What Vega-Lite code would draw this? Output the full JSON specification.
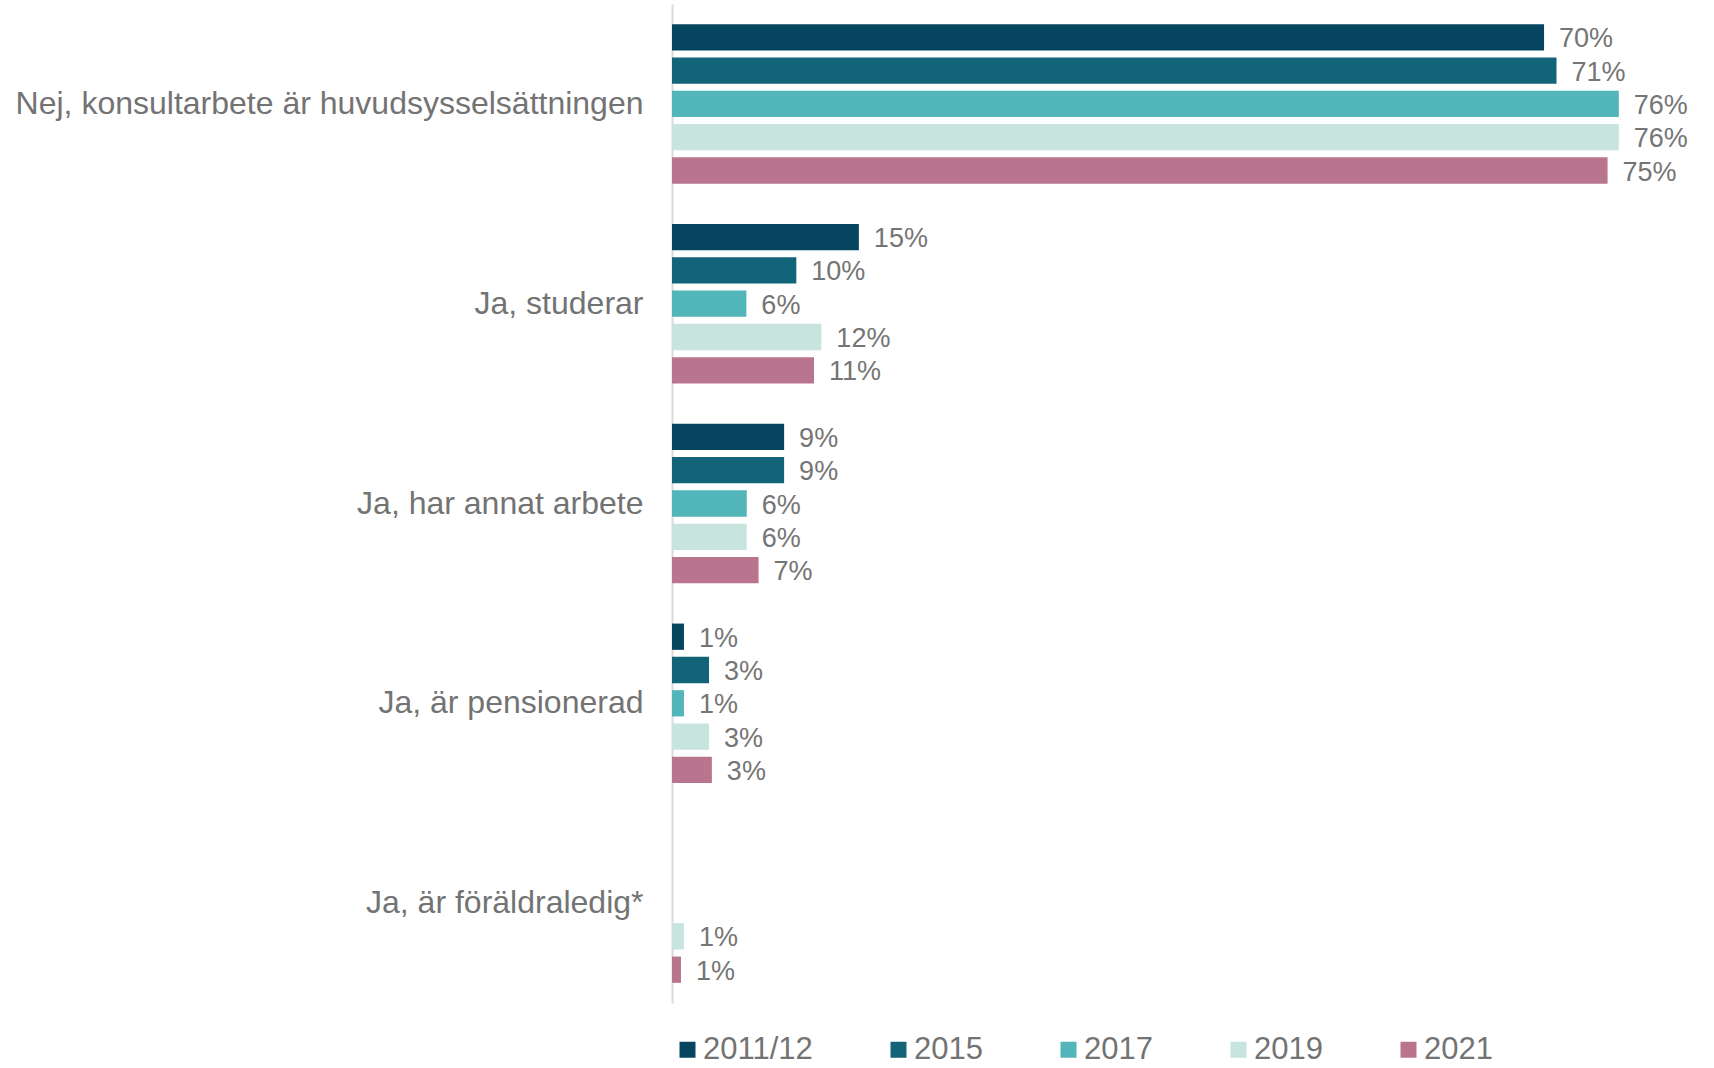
{
  "$schema": "https://vega.github.io/schema/vega-lite/v6.json",
  "autosize": {"type": "none"},
  "padding": {"left": 672, "top": 4, "right": 8, "bottom": 64},
  "width": 1034,
  "height": 999,
  "background": "white",
  "config": {
    "view": {"stroke": null},
    "font": "Liberation Sans",
    "text": {"font": "Liberation Sans"}
  },
  "data": {
    "values": [
      {"kategori": "Nej, konsultarbete är huvudsysselsättningen", "år": "2011/12", "andel": 0.700},
      {"kategori": "Nej, konsultarbete är huvudsysselsättningen", "år": "2015", "andel": 0.710},
      {"kategori": "Nej, konsultarbete är huvudsysselsättningen", "år": "2017", "andel": 0.760},
      {"kategori": "Nej, konsultarbete är huvudsysselsättningen", "år": "2019", "andel": 0.760},
      {"kategori": "Nej, konsultarbete är huvudsysselsättningen", "år": "2021", "andel": 0.751},
      {"kategori": "Ja, studerar", "år": "2011/12", "andel": 0.150},
      {"kategori": "Ja, studerar", "år": "2015", "andel": 0.0998},
      {"kategori": "Ja, studerar", "år": "2017", "andel": 0.0597},
      {"kategori": "Ja, studerar", "år": "2019", "andel": 0.1199},
      {"kategori": "Ja, studerar", "år": "2021", "andel": 0.114},
      {"kategori": "Ja, har annat arbete", "år": "2011/12", "andel": 0.090},
      {"kategori": "Ja, har annat arbete", "år": "2015", "andel": 0.090},
      {"kategori": "Ja, har annat arbete", "år": "2017", "andel": 0.060},
      {"kategori": "Ja, har annat arbete", "år": "2019", "andel": 0.060},
      {"kategori": "Ja, har annat arbete", "år": "2021", "andel": 0.0695},
      {"kategori": "Ja, är pensionerad", "år": "2011/12", "andel": 0.0096},
      {"kategori": "Ja, är pensionerad", "år": "2015", "andel": 0.0297},
      {"kategori": "Ja, är pensionerad", "år": "2017", "andel": 0.0096},
      {"kategori": "Ja, är pensionerad", "år": "2019", "andel": 0.0297},
      {"kategori": "Ja, är pensionerad", "år": "2021", "andel": 0.032},
      {"kategori": "Ja, är föräldraledig*", "år": "2019", "andel": 0.0096},
      {"kategori": "Ja, är föräldraledig*", "år": "2021", "andel": 0.0072}
    ]
  },
  "encoding": {
    "y": {
      "field": "kategori",
      "type": "nominal",
      "sort": ["Nej, konsultarbete är huvudsysselsättningen", "Ja, studerar", "Ja, har annat arbete", "Ja, är pensionerad", "Ja, är föräldraledig*"],
      "scale": {"paddingInner": 0, "paddingOuter": 0},
      "axis": {
        "title": null,
        "ticks": false,
        "tickSize": 0,
        "labelPadding": 29,
        "labelLimit": 800,
        "labelFontSize": 32,
        "labelColor": "#737373",
        "labelFont": "Liberation Sans",
        "domainColor": "#d9d9d9",
        "domainWidth": 2,
        "grid": false
      }
    },
    "yOffset": {
      "field": "år",
      "type": "nominal",
      "scale": {"domain": ["2011/12", "2015", "2017", "2019", "2021"], "paddingInner": 0.21, "paddingOuter": 0.605}
    },
    "x": {
      "field": "andel",
      "type": "quantitative",
      "scale": {"domain": [0, 0.83], "nice": false, "zero": true},
      "axis": null
    }
  },
  "layer": [
    {
      "mark": {"type": "bar"},
      "encoding": {
        "color": {
          "field": "år",
          "type": "nominal",
          "scale": {
            "domain": ["2011/12", "2015", "2017", "2019", "2021"],
            "range": ["#064560", "#136478", "#52B5BA", "#C8E4DE", "#BA758E"]
          },
          "legend": {
            "title": null,
            "orient": "bottom",
            "direction": "horizontal",
            "symbolType": "square",
            "symbolSize": 256,
            "symbolStrokeWidth": 0,
            "symbolOpacity": 1,
            "labelFontSize": 31,
            "labelFont": "Liberation Sans",
            "labelColor": "#737373",
            "labelOffset": 0,
            "columnPadding": 70,
            "offset": 31
          }
        }
      }
    },
    {
      "mark": {"type": "text", "align": "left", "baseline": "middle", "dx": 15, "dy": 2, "fontSize": 27, "color": "#757575", "font": "Liberation Sans"},
      "encoding": {
        "text": {"field": "andel", "type": "quantitative", "format": ".0%"}
      }
    }
  ]
}
